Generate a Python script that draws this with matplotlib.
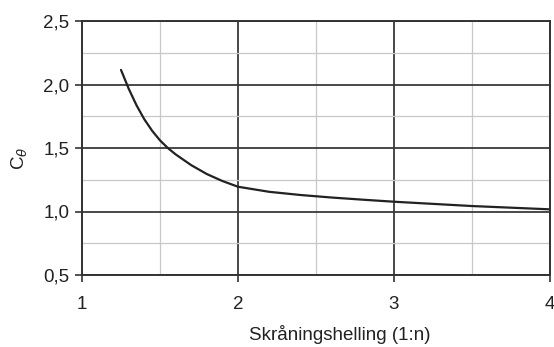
import matplotlib
matplotlib.use("Agg")
import matplotlib.pyplot as plt
from matplotlib.ticker import MultipleLocator, FuncFormatter

# Coefficient versus slope inclination (1:n)
slope_n = [1.25, 1.30, 1.35, 1.40, 1.45, 1.50, 1.55, 1.60, 1.70, 1.80, 1.90, 2.00,
           2.20, 2.40, 2.60, 2.80, 3.00, 3.25, 3.50, 3.75, 4.00]
coeff = [2.115, 1.965, 1.835, 1.725, 1.635, 1.56, 1.50, 1.45, 1.365, 1.295, 1.24, 1.195,
         1.155, 1.13, 1.11, 1.093, 1.077, 1.06, 1.043, 1.03, 1.017]

x_ticks = [1, 2, 3, 4]
y_ticks = [0.5, 1.0, 1.5, 2.0, 2.5]

plt.rcParams["font.family"] = ["Liberation Sans", "DejaVu Sans"]

fig = plt.figure(figsize=(5.54, 3.47), dpi=100)
W, H = 554, 347
left, right, top, bottom = 82, 550, 21, 275
ax = fig.add_axes([left / W, 1 - bottom / H, (right - left) / W, (bottom - top) / H])

ax.set_xlim(1, 4)
ax.set_ylim(0.5, 2.5)
ax.xaxis.set_minor_locator(MultipleLocator(0.5))
ax.yaxis.set_minor_locator(MultipleLocator(0.25))
ax.set_xticks(x_ticks)
ax.set_yticks(y_ticks)
ax.yaxis.set_major_formatter(FuncFormatter(lambda v, p: f"{v:.1f}".replace(".", ",")))
ax.xaxis.set_major_formatter(FuncFormatter(lambda v, p: f"{v:.0f}"))

ax.grid(which="major", color="#3a3a3a", linewidth=1.3)
ax.grid(which="minor", color="#c8c8c8", linewidth=0.9)
ax.set_axisbelow(True)

for s in ax.spines.values():
    s.set_color("#333333")
    s.set_linewidth(1.4)

ax.tick_params(which="major", direction="out", length=5, width=1.2, color="#333333",
               labelsize=13.5, labelcolor="#222222", pad=4)
ax.tick_params(axis="x", which="major", pad=10)
ax.tick_params(which="minor", length=0)

ax.plot(slope_n, coeff, color="#222222", linewidth=1.6, solid_capstyle="round",
        solid_joinstyle="round")

fig.text(20 / W, 1 - 158 / H, r"C$_\theta$", rotation=90, ha="center", va="center",
         fontsize=13.5, color="#222222")
fig.text(340 / W, 1 - 334 / H, "Skråningshelling (1:n)", ha="center", va="center",
         fontsize=13.5, color="#222222")

fig.savefig("out.png", dpi=100)
